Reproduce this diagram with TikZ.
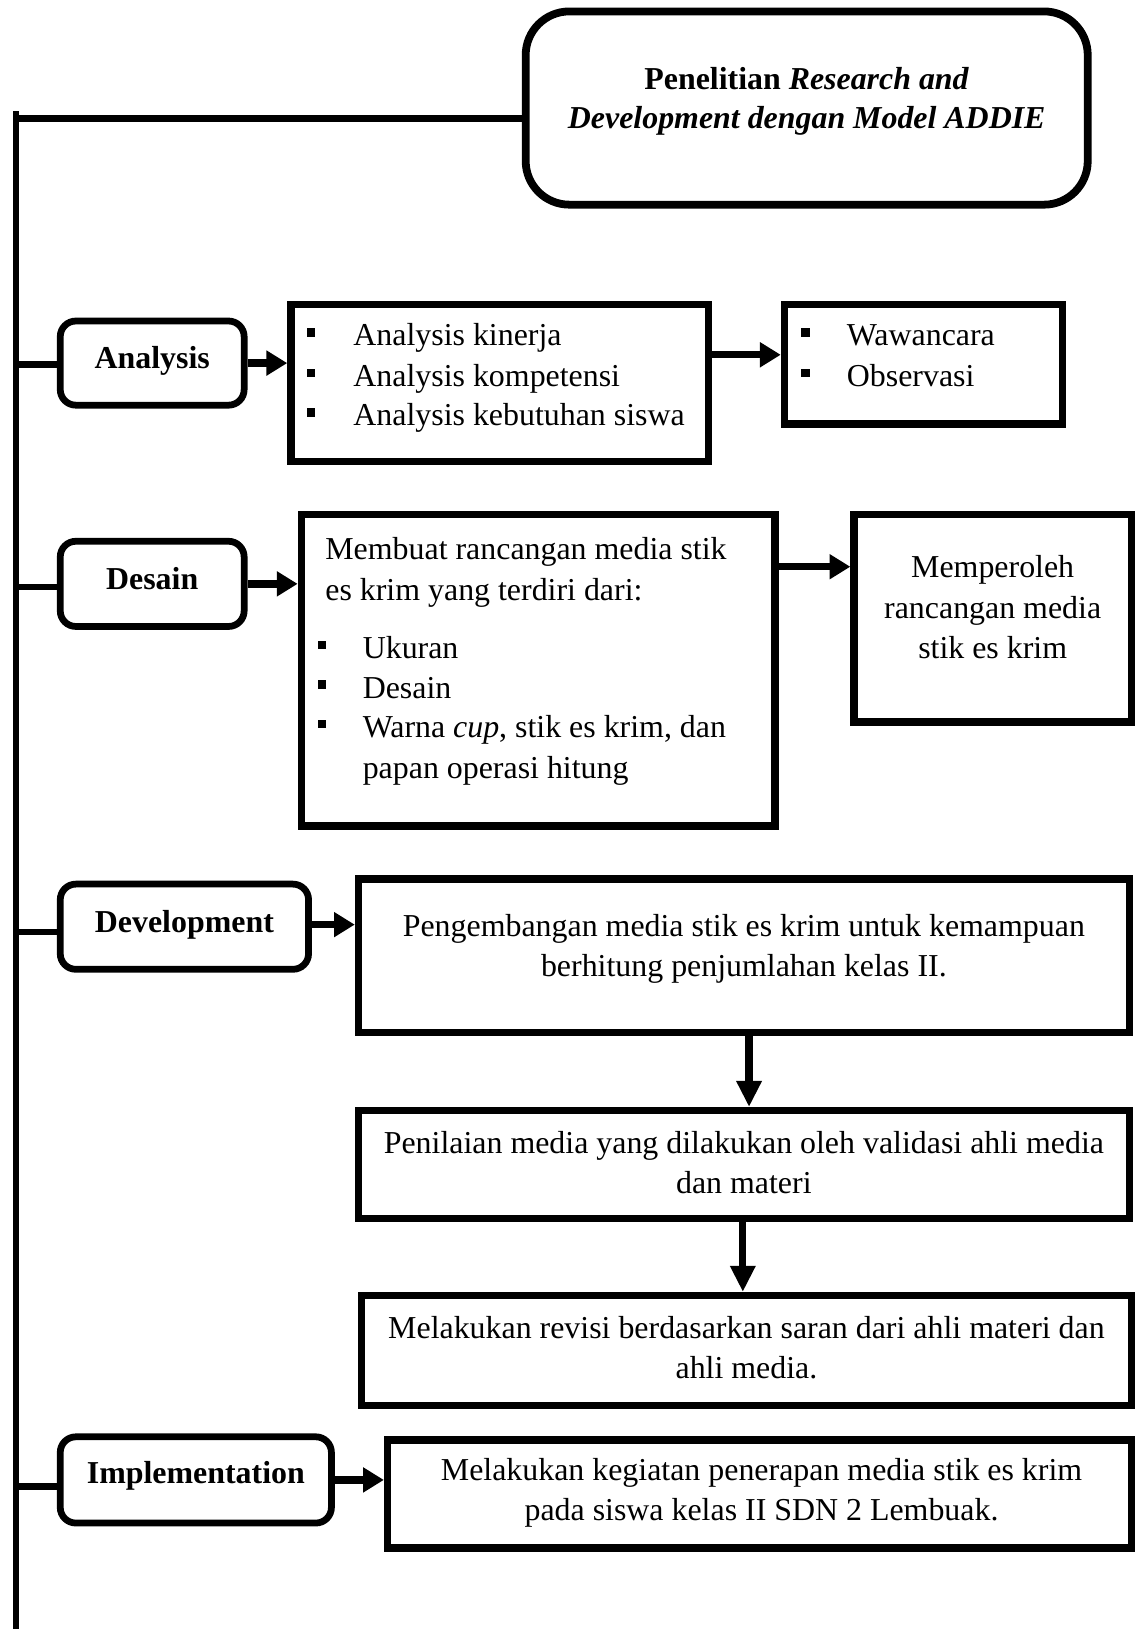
\documentclass[tikz,border=0pt]{standalone}
\usepackage{fontspec}
\setmainfont{Liberation Serif}
\usetikzlibrary{arrows.meta,calc}
\tikzset{
  box/.style={draw, line width=7pt, rectangle, inner sep=0pt},
  rbox/.style={draw, line width=6.5pt, rectangle, rounded corners=15pt, inner sep=0pt},
  tbox/.style={draw, line width=7.5pt, rectangle, rounded corners=42pt, inner sep=0pt},
  txt/.style={inner sep=0pt, font=\fontsize{30.7}{38.7}\selectfont},
  btxt/.style={inner sep=0pt, font=\fontsize{30.7}{38.7}\selectfont\bfseries},
  harr/.style={line width=7pt, -{Triangle[length=20pt,width=23pt]}},
  varr/.style={line width=7pt, -{Triangle[length=25pt,width=23pt]}},
  trunk/.style={line width=6.5pt},
  bul/.style={inner sep=0pt, anchor=base west},
}
\newcommand\sqbul{\rule[9pt]{8pt}{8pt}}
\begin{document}
\begin{tikzpicture}[x=1pt,y=-1pt]
\fill[white] (0,0) rectangle (1099,1568);
\useasboundingbox (0,0) rectangle (1099,1568);

% boxes
\node[tbox, minimum width=541pt, minimum height=186pt] (title) at (776.5,104) {};
\node[rbox, minimum width=177pt, minimum height=81pt] (anaL) at (146.5,349.5) {};
\node[box, minimum width=402pt, minimum height=151pt] (anaList) at (481,368.5) {};
\node[box, minimum width=268pt, minimum height=115pt] (waw) at (889,350.5) {};
\node[rbox, minimum width=177pt, minimum height=82pt] (desL) at (146.5,562) {};
\node[box, minimum width=456pt, minimum height=300pt] (desList) at (518,645) {};
\node[box, minimum width=267pt, minimum height=200pt] (memp) at (955.5,595) {};
\node[rbox, minimum width=239pt, minimum height=82pt] (devL) at (177.5,892) {};
\node[box, minimum width=742pt, minimum height=148pt] (dev) at (716,920) {};
\node[box, minimum width=742pt, minimum height=104pt] (pen) at (716,1121) {};
\node[box, minimum width=741pt, minimum height=106pt] (rev) at (718.5,1300) {};
\node[rbox, minimum width=261pt, minimum height=83pt] (impL) at (188.5,1424.5) {};
\node[box, minimum width=716pt, minimum height=104pt] (imp) at (731,1438) {};

% trunk
\coordinate (top) at (15.5,107);
\coordinate (bot) at (15.5,1568);
\draw[trunk] (top) -- (bot);
\draw[trunk] ([yshift=-10pt]title.west -| top) -- ([yshift=-10pt]title.west);
\draw[trunk] ([yshift=-1pt]anaL.west -| top) -- ([yshift=-1pt]anaL.west);
\draw[trunk] ([yshift=-3pt]desL.west -| top) -- ([yshift=-3pt]desL.west);
\draw[trunk] ([yshift=-5pt]devL.west -| top) -- ([yshift=-5pt]devL.west);
\draw[trunk] ([yshift=-6pt]impL.west -| top) -- ([yshift=-6pt]impL.west);

% arrows
\draw[harr] (anaL.east) -- (anaL.east -| anaList.west);
\draw[harr] ([yshift=-52pt]anaList.north east) -- ([yshift=-52pt]anaList.north east -| waw.west);
\draw[harr] (desL.east) -- (desL.east -| desList.west);
\draw[harr] ([yshift=-54pt]desList.north east) -- ([yshift=-54pt]desList.north east -| memp.west);
\draw[harr] ([yshift=2pt]devL.east) -- ([yshift=2pt]devL.east -| dev.west);
\draw[varr] ([xshift=5pt]dev.south) -- ([xshift=5pt]dev.south |- pen.north);
\draw[varr] ([xshift=-1pt]pen.south) -- ([xshift=-1pt]pen.south |- rev.north);
\draw[harr] (impL.east) -- (impL.east -| imp.west);

% title text
\node[btxt, anchor=base] (ti1) at (776.5,86) {Penelitian \textit{Research and}};
\node[btxt, anchor=base] (ti2) at (776.5,124) {\textit{Development dengan Model ADDIE}};

% stage labels
\node[btxt, anchor=base] (la) at (146.5,355) {Analysis};
\node[btxt, anchor=base] (ld) at (146.5,567) {Desain};
\node[btxt, anchor=base] (lv) at (177.5,898) {Development};
\node[btxt, anchor=base] (li) at (188.5,1428) {Implementation};

% analysis list
\node[bul] (ab1) at (295,333) {\sqbul};
\node[bul] (ab2) at (295,372) {\sqbul};
\node[bul] (ab3) at (295,410) {\sqbul};
\node[txt, anchor=base west] (at1) at (340,333) {Analysis kinerja};
\node[txt, anchor=base west] (at2) at (340,372) {Analysis kompetensi};
\node[txt, anchor=base west] (at3) at (340,410) {Analysis kebutuhan siswa};

% wawancara
\node[bul] (wb1) at (771,333) {\sqbul};
\node[bul] (wb2) at (771,372) {\sqbul};
\node[txt, anchor=base west] (wt1) at (815,333) {Wawancara};
\node[txt, anchor=base west] (wt2) at (815,372) {Observasi};

% desain list
\node[txt, anchor=base west] (dt0) at (313,539) {Membuat rancangan media stik};
\node[txt, anchor=base west] (dt1) at (313,578) {es krim yang terdiri dari:};
\node[bul] (db1) at (306,634) {\sqbul};
\node[bul] (db2) at (306,672) {\sqbul};
\node[bul] (db3) at (306,710) {\sqbul};
\node[txt, anchor=base west] (dt2) at (349,634) {Ukuran};
\node[txt, anchor=base west] (dt3) at (349,672) {Desain};
\node[txt, anchor=base west] (dt4) at (349,710) {Warna \textit{cup}, stik es krim, dan};
\node[txt, anchor=base west] (dt5) at (349,749) {papan operasi hitung};

% memperoleh
\node[txt, anchor=base] (mt1) at (955.5,556) {Memperoleh};
\node[txt, anchor=base] (mt2) at (955.5,595) {rancangan media};
\node[txt, anchor=base] (mt3) at (955.5,634) {stik es krim};

% development
\node[txt, anchor=base] (vt1) at (716,901) {Pengembangan media stik es krim untuk kemampuan};
\node[txt, anchor=base] (vt2) at (716,940) {berhitung penjumlahan kelas II.};

\node[txt, anchor=base] (pt1) at (716,1110) {Penilaian media yang dilakukan oleh validasi ahli media};
\node[txt, anchor=base] (pt2) at (716,1149) {dan materi};

\node[txt, anchor=base] (rt1) at (718.5,1288) {Melakukan revisi berdasarkan saran dari ahli materi dan};
\node[txt, anchor=base] (rt2) at (718.5,1327) {ahli media.};

% implementation
\node[txt, anchor=base] (it1) at (733,1425) {Melakukan kegiatan penerapan media stik es krim};
\node[txt, anchor=base] (it2) at (733,1464) {pada siswa kelas II SDN 2 Lembuak.};
\end{tikzpicture}
\end{document}
